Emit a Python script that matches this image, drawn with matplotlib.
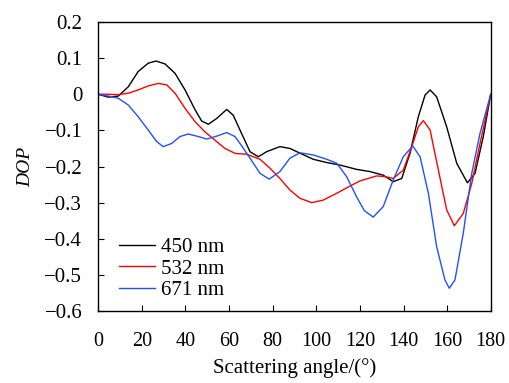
import matplotlib
matplotlib.use('Agg')
import matplotlib.pyplot as plt
from matplotlib.ticker import FuncFormatter, MultipleLocator

# values
ang_450 = [0, 4.6, 9.2, 13.8, 18.3, 22.9, 26.5, 30.6, 35.2, 39.8, 44.4, 47.4, 50.5,
           54.3, 58.9, 61.9, 65, 69.6, 73.4, 77.2, 83.3, 87.9, 92.5, 98.6, 104.8,
           110.9, 118.5, 124.6, 130.7, 135.3, 139.2, 143, 146.8, 149.9, 152.2,
           155.2, 159.8, 164.4, 169.3, 172.8, 176.6, 180]
dop_450 = [0, -0.008, -0.005, 0.021, 0.063, 0.086, 0.092, 0.084, 0.058, 0.012, -0.043,
           -0.074, -0.083, -0.067, -0.042, -0.058, -0.099, -0.159, -0.173, -0.159,
           -0.145, -0.150, -0.163, -0.180, -0.189, -0.196, -0.208, -0.214, -0.224,
           -0.242, -0.233, -0.163, -0.062, -0.002, 0.012, -0.007, -0.090, -0.191,
           -0.245, -0.219, -0.117, 0]

ang_532 = [0, 4.6, 9.2, 13.8, 18.3, 22.9, 27.5, 31.4, 35.2, 39.8, 44.4, 48.9, 53.5,
           58.1, 62.9, 68.1, 74.2, 78.8, 83.3, 87.9, 92.5, 97.9, 103.2, 109.4, 115.5,
           120, 127.7, 131.5, 135.3, 139.9, 143.8, 146.8, 149.1, 152.2, 156, 159.8,
           163.3, 167.4, 171.3, 175.1, 180]
dop_532 = [0, 0, -0.001, 0.003, 0.012, 0.023, 0.030, 0.026, 0.003, -0.039, -0.076,
           -0.104, -0.127, -0.150, -0.164, -0.166, -0.180, -0.205, -0.233, -0.265,
           -0.288, -0.300, -0.293, -0.274, -0.254, -0.240, -0.226, -0.228, -0.233,
           -0.210, -0.145, -0.090, -0.073, -0.099, -0.210, -0.320, -0.364, -0.330,
           -0.247, -0.136, 0]

ang_671 = [0, 4.6, 9.2, 13.8, 18.3, 22.9, 26.8, 29.8, 33.7, 37.5, 41.3, 45.9, 49.7,
           54.3, 58.9, 62.7, 65, 69.6, 74.2, 78.4, 83.3, 87.9, 92.5, 98.6, 104.8,
           109.4, 113.9, 118.5, 122, 126.1, 130.7, 135.3, 139.9, 144.2, 147.6, 151.4,
           155.2, 159, 161, 163.6, 167.4, 171.3, 175.1, 180]
dop_671 = [0, -0.005, -0.011, -0.030, -0.062, -0.099, -0.131, -0.145, -0.136, -0.117,
           -0.110, -0.117, -0.124, -0.116, -0.106, -0.117, -0.136, -0.177, -0.219,
           -0.235, -0.214, -0.177, -0.162, -0.168, -0.180, -0.191, -0.228, -0.284,
           -0.322, -0.340, -0.311, -0.237, -0.173, -0.143, -0.173, -0.274, -0.422,
           -0.514, -0.537, -0.514, -0.385, -0.219, -0.108, 0]

labels = ['450 nm', '532 nm', '671 nm']

plt.rcParams['font.family'] = ['Liberation Serif', 'DejaVu Serif']

fig = plt.figure(figsize=(5.1, 3.83), dpi=100)
ax = fig.add_axes([0.1927, 0.188, 0.7695, 0.7545])

ax.plot(ang_450, dop_450, color='black', lw=1.0, label=labels[0])
ax.plot(ang_532, dop_532, color='#ff0000', lw=1.0, label=labels[1])
ax.plot(ang_671, dop_671, color='#2050ff', lw=1.0, label=labels[2])

ax.set_xlim(0, 180)
ax.set_ylim(-0.6, 0.2)
ax.xaxis.set_major_locator(MultipleLocator(20))
ax.yaxis.set_major_locator(MultipleLocator(0.1))

def yfmt(v, pos):
    if abs(v) < 1e-9:
        return '0'
    return ('%.1f' % v).replace('-', '\u2212')

ax.yaxis.set_major_formatter(FuncFormatter(yfmt))
ax.tick_params(direction='in', length=4, width=0.8, top=False, right=False)
ax.tick_params(axis='y', pad=11.5, labelsize=15)
ax.tick_params(axis='x', pad=15, labelsize=14.5)
for s in ax.spines.values():
    s.set_linewidth(1.0)

ax.set_xlabel('Scattering angle/(°)', fontsize=15, labelpad=5)
ax.set_ylabel('DOP', fontsize=14, style='italic', labelpad=7)

ax.legend(loc='lower left', bbox_to_anchor=(0.02, -0.006), frameon=False, fontsize=15,
          handlelength=1.75, handletextpad=0.3, labelspacing=0.1, borderaxespad=0.2)

fig.savefig('out.png', dpi=100)
